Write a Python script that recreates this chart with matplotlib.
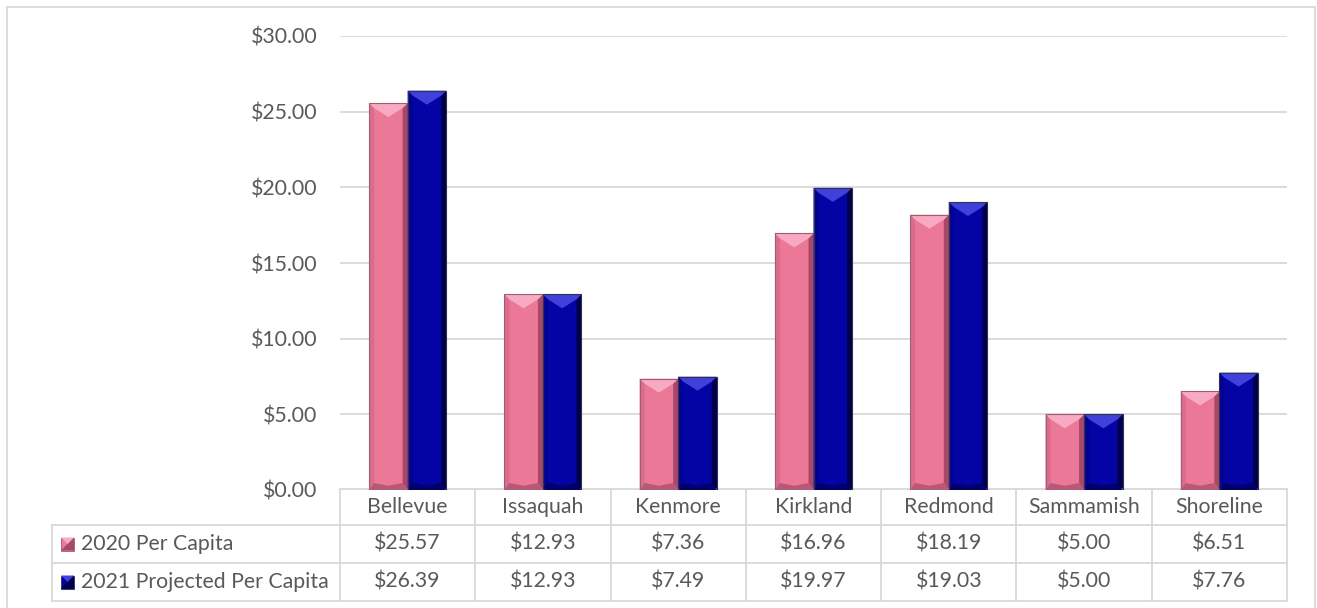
import numpy as np
import matplotlib
matplotlib.use('Agg')
import matplotlib.pyplot as plt
from matplotlib.patches import Polygon, Rectangle
import matplotlib.transforms as mtransforms

plt.rcParams['font.family'] = ['Lato', 'DejaVu Sans']

cities = ['Bellevue', 'Issaquah', 'Kenmore', 'Kirkland', 'Redmond', 'Sammamish', 'Shoreline']
per_capita_2020 = [25.57, 12.93, 7.36, 16.96, 18.19, 5.00, 6.51]
projected_2021 = [26.39, 12.93, 7.49, 19.97, 19.03, 5.00, 7.76]
series_names = ['2020 Per Capita', '2021 Projected Per Capita']

text_col = '#595959'
line_col = '#D9D9D9'
fs = 15.3

# colours for the bevelled bars: face, top, left, right, bottom, edge
pink = dict(face='#EC7898', top='#F8AAC2', left='#DC6C8E', right='#A84868', bottom='#B85878', edge='#9A6070')
blue = dict(face='#0404A4', top='#4040DA', left='#020292', right='#000048', bottom='#00006A', edge='#303050')

W, H = 1317, 608
fig = plt.figure(figsize=(W / 100, H / 100), dpi=100)
ax_l, ax_r, ax_t, ax_b = 340, 1287, 36, 490
ax = fig.add_axes([ax_l / W, 1 - ax_b / H, (ax_r - ax_l) / W, (ax_b - ax_t) / H])

# outer chart frame
fig.patches.append(Rectangle((7 / W, -0.05), (1315 - 7) / W, 1.05 - 7 / H,
                             transform=fig.transFigure, fill=False,
                             edgecolor=line_col, linewidth=1.3))

x = np.arange(len(cities))
width = 0.285
ax.set_xlim(-0.5, len(cities) - 0.5)
ax.set_ylim(0, 30)

px_x = 1.0 / ((ax_r - ax_l) / len(cities))   # data units per pixel (x)
px_y = 30.0 / (ax_b - ax_t)                   # data units per pixel (y)


def bevel(rects, c):
    for r in rects:
        x0 = r.get_x()
        w = r.get_width()
        h = r.get_height()
        x1 = x0 + w
        xc = x0 + w / 2
        s = 5 * px_x
        sy = 5 * px_y
        d = min(14 * px_y, h / 2)
        bd = min(7 * px_y, h / 3)
        ax.add_patch(Polygon([(x0, 0), (x0, h), (x0 + s, h - sy), (x0 + s, bd)],
                             closed=True, facecolor=c['left'], edgecolor='none', zorder=3))
        ax.add_patch(Polygon([(x1, 0), (x1, h), (x1 - s, h - sy), (x1 - s, bd)],
                             closed=True, facecolor=c['right'], edgecolor='none', zorder=3))
        ax.add_patch(Polygon([(x0, h), (x1, h), (x1 - s, h - sy), (xc, h - d), (x0 + s, h - sy)],
                             closed=True, facecolor=c['top'], edgecolor='none', zorder=3))
        ax.add_patch(Polygon([(x0, 0), (x1, 0), (x1 - s, bd), (xc, bd * 0.6), (x0 + s, bd)],
                             closed=True, facecolor=c['bottom'], edgecolor='none', zorder=3))
        ax.add_patch(Rectangle((x0, 0), w, h, fill=False, edgecolor=c['edge'],
                               linewidth=0.8, zorder=4))


rects1 = ax.bar(x - width / 2, per_capita_2020, width, color=pink['face'], zorder=2)
rects2 = ax.bar(x + width / 2, projected_2021, width, color=blue['face'], zorder=2)
bevel(rects1, pink)
bevel(rects2, blue)

# axes styling
for sp in ax.spines.values():
    sp.set_visible(False)
ax.set_yticks(np.arange(0, 31, 5))
ax.set_yticklabels(['${:.2f}'.format(v) for v in np.arange(0, 31, 5)])
ax.tick_params(axis='y', length=0, pad=16, labelsize=fs, labelcolor=text_col)
ax.set_xticks([])
ax.grid(axis='y', color=line_col, linewidth=1.3, zorder=0)
ax.set_axisbelow(True)

# data table under the plot
tr = mtransforms.blended_transform_factory(ax.transData, ax.transAxes)


def fy(py):
    return (ax_b - py) / (ax_b - ax_t)


def fx(px):
    return (px - ax_l) / (ax_r - ax_l)


rows_y = [489, 525, 563, 601]
lw = 1.3
bounds = np.arange(len(cities) + 1) - 0.5
for b in bounds:
    ax.plot([b, b], [fy(rows_y[0]), fy(rows_y[3])], transform=tr, color=line_col,
            lw=lw, clip_on=False, solid_capstyle='butt')
ax.plot([-0.5, len(cities) - 0.5], [fy(rows_y[0])] * 2, transform=tr, color=line_col,
        lw=lw, clip_on=False)
for ry in rows_y[1:]:
    ax.plot([fx(52), 1], [fy(ry)] * 2, transform=ax.transAxes, color=line_col,
            lw=lw, clip_on=False)
ax.plot([fx(52)] * 2, [fy(rows_y[1]), fy(rows_y[3])], transform=ax.transAxes,
        color=line_col, lw=lw, clip_on=False)

hdr_y = fy((rows_y[0] + rows_y[1]) / 2)
for i, name in enumerate(cities):
    ax.text(i, hdr_y, name, transform=tr, ha='center', va='center',
            fontsize=fs, color=text_col, clip_on=False)

for k, (vals, c) in enumerate([(per_capita_2020, pink), (projected_2021, blue)]):
    cy = fy((rows_y[k + 1] + rows_y[k + 2]) / 2)
    for i, v in enumerate(vals):
        ax.text(i, cy, '${:.2f}'.format(v), transform=tr, ha='center', va='center',
                fontsize=fs, color=text_col, clip_on=False)
    # legend key
    kx0, ks = fx(61), 13 / (ax_r - ax_l)
    ksy = 13 / (ax_b - ax_t)
    ky0 = cy - ksy / 2
    key = Rectangle((kx0, ky0), ks, ksy, transform=ax.transAxes, facecolor=c['face'],
                    edgecolor=c['edge'], linewidth=0.6, clip_on=False)
    ax.add_patch(key)
    ax.add_patch(Polygon([(kx0, ky0), (kx0 + ks, ky0 + ksy), (kx0 + ks, ky0)],
                         transform=ax.transAxes, facecolor=c['right'], edgecolor='none',
                         clip_on=False))
    ax.add_patch(Polygon([(kx0, ky0 + ksy), (kx0 + ks, ky0 + ksy), (kx0 + ks / 2, ky0 + ksy / 2)],
                         transform=ax.transAxes, facecolor=c['top'], edgecolor='none',
                         clip_on=False))
    ax.text(fx(81), cy, series_names[k], transform=ax.transAxes, ha='left', va='center',
            fontsize=fs, color=text_col, clip_on=False)

fig.savefig('out.png', dpi=100)
